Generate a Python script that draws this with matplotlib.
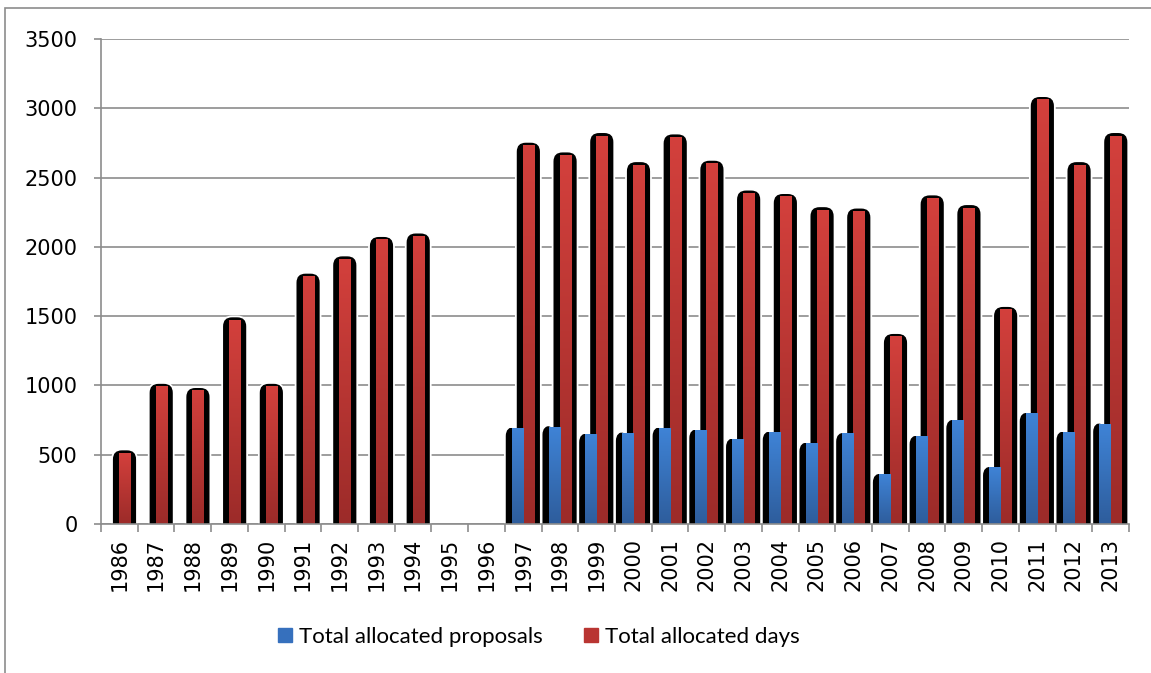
import numpy as np
import matplotlib
matplotlib.use("Agg")
import matplotlib.pyplot as plt
from matplotlib.patches import FancyBboxPatch, Rectangle
from matplotlib.colors import LinearSegmentedColormap
from matplotlib.lines import Line2D

years = [str(y) for y in range(1986, 2014)]
proposals = [0, 0, 0, 0, 0, 0, 0, 0, 0, 0, 0,
             690, 700, 645, 655, 690, 675, 610, 660, 580, 650,
             355, 630, 745, 405, 795, 660, 720]
days = [510, 990, 960, 1470, 990, 1785, 1910, 2050, 2075, 0, 0,
        2730, 2660, 2800, 2590, 2790, 2600, 2385, 2360, 2265, 2255,
        1350, 2350, 2280, 1545, 3060, 2590, 2800]
labels = ["Total allocated proposals", "Total allocated days"]

W, H = 1151, 673
fig = plt.figure(figsize=(W / 100, H / 100), dpi=100)
ax = fig.add_axes([101 / W, 1 - 524 / H, 1028 / W, 485 / H])

n = len(years)
ymax = 3500
ax.set_xlim(0, n)
ax.set_ylim(0, ymax)
# y units per x unit, so rounded tops look round in pixels
asp = (ymax / 485) / (n / 1028)

red_cmap = LinearSegmentedColormap.from_list("r", ["#d3403c", "#9c2b29"])
blue_cmap = LinearSegmentedColormap.from_list("b", ["#3f83d6", "#2e5d9c"])
grad = np.linspace(0, 1, 128).reshape(-1, 1)
r = 0.27
cap = 28

for i in range(n):
    x0 = i
    d = days[i]
    if d > 0:
        body = FancyBboxPatch((x0 + 0.30, -300), 0.68, d + 300 + cap,
                              boxstyle=f"round,pad=0,rounding_size={r}",
                              mutation_aspect=asp, facecolor="black",
                              edgecolor="white", linewidth=1.3, zorder=2)
        ax.add_patch(body)
        ax.imshow(grad, cmap=red_cmap, extent=(x0 + 0.49, x0 + 0.79, 0, d),
                  aspect="auto", origin="upper", zorder=3, interpolation="bilinear")
    p = proposals[i]
    if p > 0:
        body = FancyBboxPatch((x0 + 0.0, -300), 0.36, p + 300 + cap * 0.6,
                              boxstyle=f"round,pad=0,rounding_size={r}",
                              mutation_aspect=asp, facecolor="black",
                              edgecolor="white", linewidth=1.3, zorder=4)
        ax.add_patch(body)
        ax.imshow(grad, cmap=blue_cmap, extent=(x0 + 0.19, x0 + 0.49, 0, p),
                  aspect="auto", origin="upper", zorder=5, interpolation="bilinear")

ax.set_xlim(0, n)
ax.set_ylim(0, ymax)

grey = "#8c8c8c"
ax.set_yticks(np.arange(0, ymax + 1, 500))
ax.yaxis.grid(True, color=grey, linewidth=1.2)
ax.set_axisbelow(True)
ax.set_xticks(np.arange(n) + 0.5)
ax.set_xticklabels(years, rotation=90)
ax.set_xticks(np.arange(n + 1), minor=True)
ax.tick_params(axis="x", which="major", length=0, pad=10, labelsize=15)
ax.tick_params(axis="x", which="minor", length=6, color=grey, width=1.2)
ax.tick_params(axis="y", length=5, color=grey, width=1.2, pad=12, labelsize=15)
for s in ["top", "right"]:
    ax.spines[s].set_visible(False)
for s in ["left", "bottom"]:
    ax.spines[s].set_color(grey)
    ax.spines[s].set_linewidth(1.2)
    ax.spines[s].set_zorder(6)

handles = [Line2D([], [], marker="s", ls="", markersize=9.5, color="#3670bd"),
           Line2D([], [], marker="s", ls="", markersize=9.5, color="#b93532")]
fig.legend(handles, labels, loc="center", bbox_to_anchor=(538 / W, 1 - 637 / H),
           ncol=2, frameon=False, handletextpad=0.2, columnspacing=1.8,
           handlelength=0.8, prop={"family": "Lato", "size": 16})

fig.add_artist(Rectangle((5 / W, -0.1), 1.2, 1 - 8 / H + 0.1, transform=fig.transFigure,
                         facecolor="none", edgecolor=grey, linewidth=1.2))

fig.savefig("out.png", dpi=100)
